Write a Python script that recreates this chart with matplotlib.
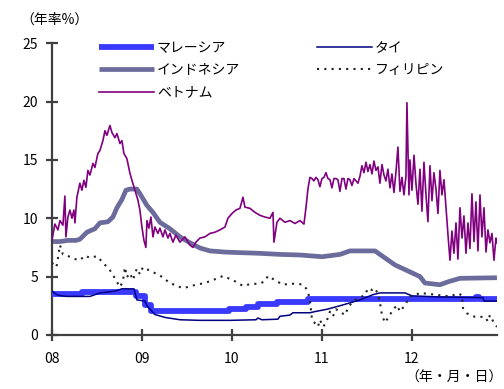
import matplotlib
matplotlib.use("Agg")
import matplotlib.pyplot as plt

plt.rcParams['font.family'] = ['Noto Sans CJK JP', 'DejaVu Sans']

# 横軸は2008年1月からの経過月数
tick_pos = [0, 12, 24, 36, 48]
tick_labels = ['08', '09', '10', '11', '12']

# マレーシア（階段状）
my_m = [0.0, 4.0, 6.0, 11.2, 12.4, 13.2, 23.6, 25.9, 27.5, 30.0, 34.2, 56.5, 56.9, 59.33]
my_v = [3.55, 3.65, 3.7, 3.3, 2.6, 2.05, 2.2, 2.4, 2.65, 2.85, 3.05, 3.25, 3.1, 3.1]

# インドネシア
id_m = [0.0, 1.07, 2.13, 3.2, 3.73, 4.67, 5.73, 6.4, 7.47, 8.13, 8.67, 9.33, 9.87, 10.4,
        11.33, 11.73, 12.67, 13.47, 14.4, 15.73, 17.07, 18.4, 19.73, 21.07, 23.07, 25.07,
        27.47, 30.4, 33.07, 36.0, 38.4, 39.73, 43.07, 44.4, 45.73, 47.73, 49.07, 49.73,
        51.73, 52.8, 54.4, 59.33]
id_v = [8.0, 8.0, 8.1, 8.1, 8.2, 8.8, 9.1, 9.6, 9.7, 10.1, 10.9, 11.6, 12.4, 12.5,
        12.5, 12.1, 11.1, 10.5, 9.65, 9.1, 8.4, 7.9, 7.45, 7.2, 7.1, 7.05,
        7.0, 6.9, 6.85, 6.7, 6.9, 7.2, 7.2, 6.6, 6.0, 5.4, 5.0, 4.45,
        4.3, 4.55, 4.85, 4.9]

# ベトナム
vn_m = [0.0, 0.4, 0.8, 1.07, 1.47, 1.73, 1.87, 2.13, 2.4, 2.67, 2.93, 3.07, 3.33, 3.73,
        4.0, 4.27, 4.53, 4.8, 5.07, 5.47, 5.73, 6.13, 6.4, 6.8, 7.07, 7.33, 7.73, 8.0,
        8.4, 8.67, 9.07, 9.33, 9.6, 10.0, 10.4, 10.67, 11.07, 11.47, 11.73, 12.0, 12.27,
        12.53, 12.67, 12.93, 13.2, 13.47, 13.73, 14.13, 14.4, 14.8, 15.07, 15.47, 15.73,
        16.13, 16.53, 17.07, 17.73, 18.4, 18.8, 19.2, 19.73, 20.4, 21.07, 21.73, 22.4,
        23.07, 23.47, 24.0, 24.53, 25.07, 25.47, 25.73, 26.4, 27.07, 27.73, 28.4, 29.07,
        29.47, 29.6, 30.0, 30.4, 31.07, 31.73, 32.4, 33.07, 33.6, 33.87, 34.13, 34.4,
        34.67, 34.93, 35.2, 35.47, 35.73, 36.0, 36.27, 36.53, 36.8, 37.07, 37.33, 37.6,
        37.87, 38.13, 38.4, 38.67, 38.93, 39.2, 39.47, 39.73, 40.0, 40.27, 40.53, 40.8,
        41.07, 41.33, 41.6, 41.87, 42.13, 42.4, 42.67, 42.93, 43.2, 43.47, 43.73, 44.0,
        44.27, 44.53, 44.8, 45.07, 45.33, 45.6, 45.87, 46.13, 46.4, 46.67, 46.93, 47.2,
        47.33, 47.6, 47.73, 48.0, 48.27, 48.53, 48.8, 49.07, 49.33, 49.6, 49.87, 50.13,
        50.4, 50.67, 50.93, 51.2, 51.47, 51.73, 52.0, 52.27, 52.53, 52.8, 53.07, 53.33,
        53.6, 53.87, 54.13, 54.4, 54.67, 54.93, 55.2, 55.47, 55.73, 56.0, 56.27, 56.53,
        56.8, 57.07, 57.33, 57.6, 57.87, 58.13, 58.4, 58.67, 58.93, 59.2, 59.33]
vn_v = [8.1, 9.5, 9.0, 9.8, 9.4, 11.9, 8.4, 10.1, 10.7, 10.0, 10.7, 9.6, 11.8, 13.0,
        12.4, 13.25, 12.65, 14.1, 13.7, 14.7, 14.35, 15.55, 15.8, 16.65, 17.5, 17.1, 17.95, 17.35,
        16.9, 17.25, 16.4, 16.65, 15.55, 15.1, 13.85, 13.25, 12.4, 11.55, 10.7, 9.25, 8.1,
        7.5, 9.8, 9.15, 10.1, 8.4, 9.25, 8.7, 9.15, 8.4, 9.0, 8.3, 8.7,
        7.95, 8.55, 7.95, 8.4, 7.7, 7.5, 7.95, 8.3, 8.4, 8.7, 8.8, 9.0,
        9.25, 10.0, 10.4, 10.7, 10.85, 11.8, 10.95, 10.85, 10.5, 10.25, 10.1, 10.0,
        10.5, 7.95, 9.65, 10.0, 9.65, 9.8, 9.55, 9.8, 9.5, 10.9, 12.5, 13.5,
        13.4, 13.2, 13.5, 13.3, 12.7, 13.4, 13.5, 13.9, 13.4, 13.3, 12.6, 13.4,
        13.4, 13.3, 12.3, 13.4, 13.4, 12.5, 13.4, 13.3, 12.8, 13.4, 13.2, 13.0,
        13.6, 14.5, 13.9, 14.8, 14.0, 14.6, 13.8, 14.9, 14.1, 14.4, 13.0, 14.6,
        13.7, 13.2, 14.2, 12.6, 13.8, 12.2, 14.0, 16.1, 12.3, 13.5, 12.0, 13.6,
        19.9, 12.0, 15.0, 12.4, 15.4, 13.0, 11.2, 14.2, 10.6, 14.8, 12.0, 9.7,
        14.5, 11.5, 13.9, 12.5, 10.4, 14.1, 12.0, 13.3, 11.0, 8.6, 6.4, 8.9,
        7.0, 9.6, 6.5, 10.9, 8.3, 10.2, 7.0, 9.6, 7.4, 12.1, 8.0, 11.4,
        7.2, 12.0, 8.4, 10.9, 7.1, 9.0, 7.9, 8.7, 6.4, 8.3, 7.9]

# タイ
th_m = [0.0, 0.8, 1.87, 5.07, 6.4, 8.4, 9.33, 10.93, 11.33, 12.4, 12.67, 13.73, 15.07,
        17.07, 19.73, 23.73, 27.2, 27.47, 28.0, 30.13, 30.4, 31.73, 32.13, 34.4, 35.07,
        36.67, 38.4, 41.07, 42.8, 43.73, 47.07, 48.0, 51.73, 57.47, 57.6, 59.33]
th_v = [3.75, 3.4, 3.3, 3.3, 3.6, 3.75, 3.95, 3.95, 3.0, 2.9, 2.5, 1.75, 1.5,
        1.3, 1.25, 1.25, 1.3, 1.45, 1.3, 1.35, 1.6, 1.7, 1.9, 1.9, 2.0,
        2.2, 2.5, 3.0, 3.45, 3.6, 3.6, 3.35, 3.25, 3.2, 2.9, 2.9]

# フィリピン
ph_m = [0.0, 0.4, 0.67, 1.07, 1.47, 2.4, 3.07, 3.73, 4.4, 5.07, 6.0, 6.8, 7.73, 8.4,
        9.07, 9.47, 9.73, 10.0, 10.4, 10.8, 11.33, 11.73, 12.13, 13.07, 14.4, 15.73,
        17.47, 19.2, 20.4, 21.47, 22.8, 24.13, 25.47, 26.4, 27.73, 28.4, 28.8, 29.73,
        30.8, 31.73, 33.07, 33.47, 33.87, 34.13, 34.4, 34.67, 35.07, 35.47, 35.73, 36.13,
        36.53, 37.07, 37.47, 37.87, 38.4, 39.07, 39.47, 40.0, 40.8, 41.73, 42.13, 42.67,
        43.07, 43.47, 43.73, 44.0, 44.4, 44.8, 45.47, 46.0, 46.4, 47.07, 47.73, 48.4,
        49.07, 50.4, 51.73, 53.07, 54.13, 54.67, 54.8, 55.33, 56.4, 57.73, 58.13, 58.4,
        59.07, 59.33]
ph_v = [6.2, 5.8, 6.0, 7.7, 6.9, 6.7, 6.5, 6.4, 6.8, 6.6, 6.75, 6.2, 5.55, 4.85,
        4.1, 4.6, 5.8, 4.95, 5.3, 4.7, 5.7, 5.2, 5.8, 5.5, 5.1, 4.45,
        4.0, 4.3, 4.45, 4.7, 5.05, 4.7, 4.2, 4.35, 4.4, 4.6, 5.05, 4.7,
        4.3, 4.4, 4.35, 4.3, 4.0, 3.7, 3.0, 1.3, 1.0, 0.7, 1.3, 0.7,
        1.0, 2.0, 1.6, 2.2, 2.0, 1.7, 2.3, 2.8, 3.15, 3.4, 4.0, 3.85,
        4.0, 3.5, 2.8, 1.7, 1.05, 1.45, 2.15, 2.55, 2.0, 2.55, 3.3, 3.4,
        3.6, 3.5, 3.4, 3.3, 3.55, 3.4, 2.3, 1.85, 1.55, 1.55, 1.15, 1.7,
        0.85, 0.7]

fig = plt.figure(figsize=(5.04, 3.89), dpi=100)
ax = fig.add_axes([0.103, 0.139, 0.883, 0.750])

ax.plot(id_m, id_v, color='#6b6b9c', lw=3.4, solid_capstyle='butt', label='インドネシア', zorder=2)
ax.plot(my_m, my_v, color='#3a3aff', lw=4.2, drawstyle='steps-post', solid_capstyle='butt',
        label='マレーシア', zorder=3)
ax.plot(vn_m, vn_v, color='#800080', lw=1.2, label='ベトナム', zorder=4)
ax.plot(th_m, th_v, color='#000080', lw=1.1, label='タイ', zorder=5)
ax.plot(ph_m, ph_v, color='#222222', lw=1.5, linestyle=(0, (1, 2.5)), label='フィリピン', zorder=6)

ax.set_xlim(0, 59.33)
ax.set_ylim(0, 25)
ax.set_xticks(tick_pos)
ax.set_xticklabels(tick_labels)
ax.set_yticks([0, 5, 10, 15, 20, 25])

for side in ['top', 'right']:
    ax.spines[side].set_visible(False)
for side in ['left', 'bottom']:
    ax.spines[side].set_color('#404040')
    ax.spines[side].set_linewidth(1.6)
ax.tick_params(axis='both', direction='inout', length=8, width=1.6, color='#404040',
               labelsize=10)
ax.tick_params(axis='x', pad=8)
ax.tick_params(axis='y', pad=6)

handles, labels = ax.get_legend_handles_labels()
order = [1, 0, 2, 3, 4]
ax.legend([handles[i] for i in order], [labels[i] for i in order], ncol=2,
          loc='upper left', bbox_to_anchor=(0.182, 0.913), bbox_transform=fig.transFigure,
          frameon=False, fontsize=10, handlelength=4, handletextpad=0.2,
          labelspacing=0.6, columnspacing=5.5, borderpad=0)

fig.text(0.040, 0.949, '（年率%）', fontsize=10, ha='left', va='center')
fig.text(0.998, 0.028, '（年・月・日）', fontsize=10, ha='right', va='center')

fig.savefig('out.png', dpi=100)
